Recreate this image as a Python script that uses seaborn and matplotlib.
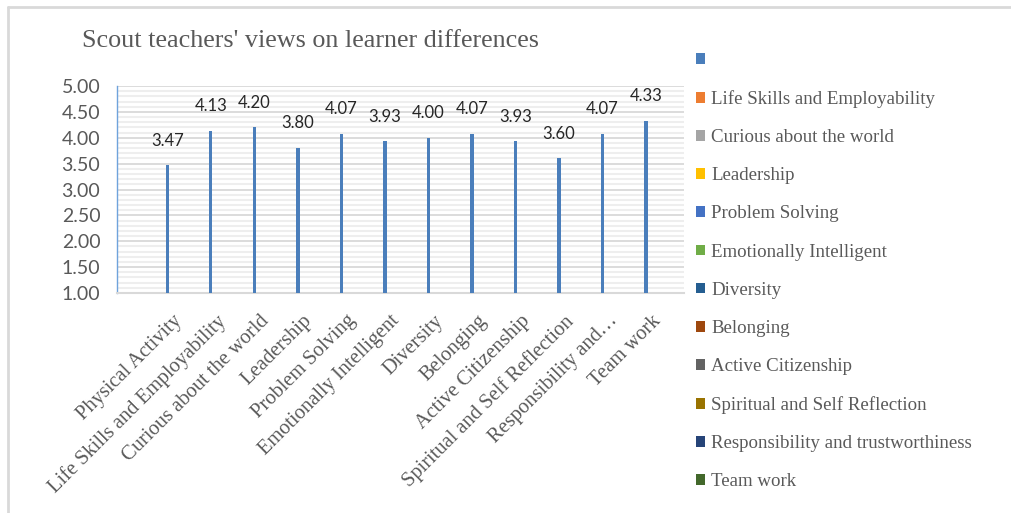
import matplotlib
matplotlib.use("Agg")
import matplotlib.pyplot as plt
import seaborn as sns
from matplotlib.patches import Patch
from matplotlib.lines import Line2D
from matplotlib.ticker import MultipleLocator
from matplotlib.transforms import ScaledTranslation

# chart data
categories = ["Physical Activity", "Life Skills and Employability", "Curious about the world",
              "Leadership", "Problem Solving", "Emotionally Intelligent", "Diversity", "Belonging",
              "Active Citizenship", "Spiritual and Self Reflection",
              "Responsibility and trustworthiness", "Team work"]
tick_labels = ["Physical Activity", "Life Skills and Employability", "Curious about the world",
               "Leadership", "Problem Solving", "Emotionally Intelligent", "Diversity", "Belonging",
               "Active Citizenship", "Spiritual and Self Reflection",
               "Responsibility and\u2026", "Team work"]
scores = [3.47, 4.13, 4.20, 3.80, 4.07, 3.93, 4.00, 4.07, 3.93, 3.60, 4.07, 4.33]
legend_labels = [""] + categories[1:]
legend_colors = ["#4a7ebb", "#ed7d31", "#a5a5a5", "#ffc000", "#4472c4", "#70ad47",
                 "#255e91", "#9e480e", "#636363", "#997300", "#264478", "#43682b"]

sns.set_style("white")
serif = ["Liberation Serif", "DejaVu Serif"]
sans = ["Lato", "DejaVu Sans"]
plt.rcParams["font.family"] = serif
txt = "#595959"

fig = plt.figure(figsize=(10.11, 5.13), dpi=100)
ax = fig.add_axes([117 / 1011, 1 - 293 / 513, 567 / 1011, 207 / 513])

sns.barplot(x=categories, y=scores, color="#4a7ebb", width=0.075, saturation=1,
            linewidth=0, ax=ax, zorder=3)
ax.bar_label(ax.containers[0], fmt="%.2f", padding=12, fontsize=12, family=sans, color="#262626")

ax.set_ylim(1, 5)
ax.set_xlim(-1.156, 11.87)
ax.yaxis.set_major_locator(MultipleLocator(0.5))
ax.yaxis.set_minor_locator(MultipleLocator(0.1))
ax.yaxis.set_major_formatter(lambda v, p: f"{v:.2f}")
ax.grid(axis="y", which="minor", color="#eeeeee", lw=1.5, zorder=0)
ax.grid(axis="y", which="major", color="#d9d9d9", lw=1.3, zorder=1)
ax.set_axisbelow(True)

for s in ["top", "right"]:
    ax.spines[s].set_visible(False)
ax.spines["left"].set_color("#6fa3dc")
ax.spines["left"].set_linewidth(1.0)
ax.spines["bottom"].set_color("#d9d9d9")
ax.spines["bottom"].set_linewidth(1.5)

ax.tick_params(axis="y", which="major", direction="out", length=4, color="#6fa3dc",
               labelsize=14, labelcolor=txt, pad=8)
ax.tick_params(axis="y", which="minor", length=0)
ax.tick_params(axis="x", length=0, pad=6)
for lab in ax.get_yticklabels():
    lab.set_family(sans)
ax.set_xticks(range(len(tick_labels)))
ax.set_xticklabels(tick_labels, rotation=45, ha="right", rotation_mode="anchor",
                   fontsize=14.8, family=serif, color=txt)
shift = ScaledTranslation(5 / 100, -10 / 100, fig.dpi_scale_trans)
for lab in ax.get_xticklabels():
    lab.set_transform(lab.get_transform() + shift)
ax.set_xlabel("")
ax.set_ylabel("")

fig.text(82 / 1011, 1 - 47 / 513, "Scout teachers' views on learner differences",
         fontsize=18.8, family=serif, color=txt, va="baseline")

handles = [Patch(facecolor=c, edgecolor="none") for c in legend_colors]
leg = fig.legend(handles, legend_labels, loc="upper left", bbox_to_anchor=(696 / 1011, 1 - 52 / 513),
                 frameon=False, borderpad=0, borderaxespad=0, handlelength=0.5, handleheight=0.5,
                 handletextpad=0.3, labelspacing=1.12, prop={"family": serif, "size": 13.6})
for t in leg.get_texts():
    t.set_color(txt)

# outer chart border (top and left visible)
fig.add_artist(Line2D([8 / 1011, 1], [1 - 7 / 513, 1 - 7 / 513], color="#d9d9d9", lw=2))
fig.add_artist(Line2D([8 / 1011, 8 / 1011], [0, 1 - 7 / 513], color="#d9d9d9", lw=2))

fig.savefig("out.png", dpi=100)
